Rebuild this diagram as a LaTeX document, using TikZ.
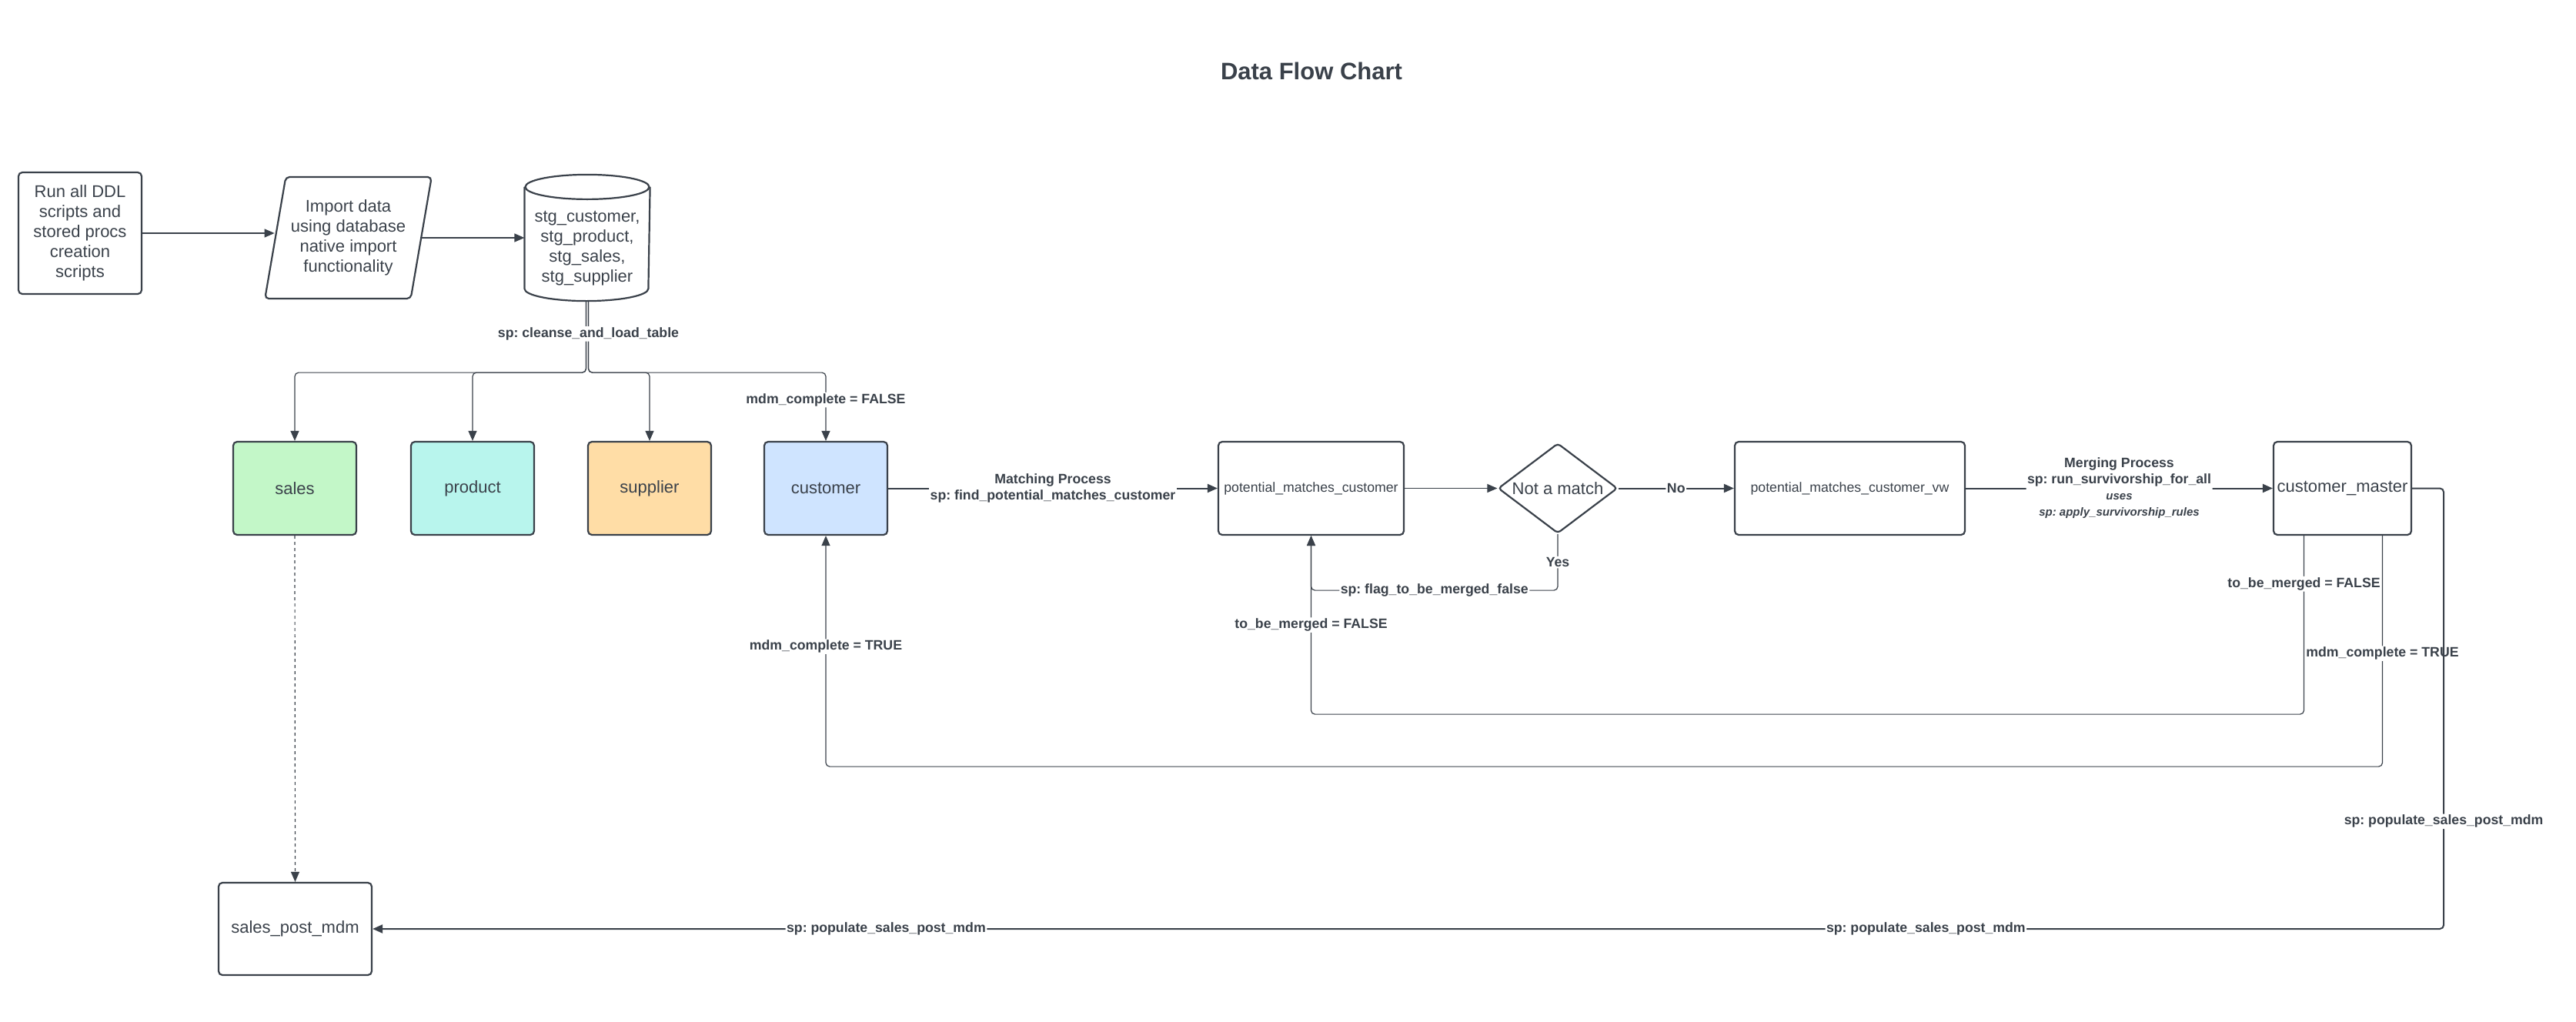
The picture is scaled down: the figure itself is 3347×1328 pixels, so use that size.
\documentclass[tikz,border=0pt]{standalone}
\usepackage{fontspec}
\setmainfont{Liberation Sans}
\frenchspacing
\usetikzlibrary{arrows.meta,%
                shapes.geometric}
\definecolor{ink}{RGB}{58,65,74}
\definecolor{salesfill}{RGB}{195,247,200}
\definecolor{productfill}{RGB}{184,245,237}
\definecolor{supplierfill}{RGB}{255,221,166}
\definecolor{customerfill}{RGB}{207,228,255}

\tikzset{
  procbox/.style={draw=ink, line width=2.2pt, rounded corners=5pt, text=ink,
                  align=center, inner sep=2pt, font=\fontsize{22}{26}\selectfont},
  tblbox/.style={procbox, minimum width=160pt, minimum height=121pt},
  lbl/.style={fill=white, text=ink, inner sep=1.5pt, align=center,
              font=\fontsize{17.7}{21}\selectfont\bfseries},
  flowline/.style={draw=ink, line width=1.2pt, rounded corners=5pt,
                   -{Triangle[length=13pt,width=11pt]}},
  mainflow/.style={flowline, line width=2pt}
}

\begin{document}
\begin{tikzpicture}[x=1pt, y=1pt]
\useasboundingbox (0,0) rectangle (3347,-1328);

\node[text=ink, font=\fontsize{31}{36}\selectfont\bfseries] (Title) at (1704,-92) {Data Flow Chart};

\node[procbox, minimum width=160pt, minimum height=158pt] (DDL) at (104,-303)
  {Run all DDL\\scripts and\\stored procs\\creation\\scripts};
\node[procbox, trapezium, trapezium left angle=76, trapezium right angle=104,
      trapezium stretches=true, minimum width=217pt, minimum height=158pt] (Import) at (452.5,-309)
  {Import data\\using database\\native import\\functionality};
\node[procbox, draw=none, minimum width=161pt, minimum height=134pt] (Stg) at (763,-323)
  {stg\_customer,\\stg\_product,\\stg\_sales,\\stg\_supplier};
\draw[ink, line width=2.2pt] ([yshift=12pt]Stg.north west) -- ([yshift=16pt]Stg.south west)
  arc[start angle=180, end angle=360, x radius=80.5pt, y radius=16pt] -- ([yshift=12pt]Stg.north east);
\draw[ink, line width=2.2pt] ([yshift=12pt]Stg.north) ellipse[x radius=80.5pt, y radius=16pt];

\draw[flowline] (DDL.east) -- (DDL.east -| Import.west);
\draw[flowline] (Import.east) -- (Import.east -| Stg.west);

\node[tblbox, fill=salesfill] (Sales) at (383,-634.5) {sales};
\node[tblbox, fill=productfill] (Product) at (614,-634.5) {product};
\node[tblbox, fill=supplierfill] (Supplier) at (844,-634.5) {supplier};
\node[tblbox, fill=customerfill] (Customer) at (1073,-634.5) {customer};

\draw[flowline] ([xshift=-1.5pt]Stg.south) -- ++(0,-93) -| (Sales.north);
\draw[flowline] ([xshift=-1.5pt]Stg.south) -- ++(0,-93) -| (Product.north);
\draw[flowline] ([xshift=1.5pt]Stg.south) -- ++(0,-93) -| (Supplier.north);
\draw[flowline] ([xshift=1.5pt]Stg.south) -- node[lbl, pos=0.46]{sp: cleanse\_and\_load\_table} ++(0,-93)
  -| node[lbl, pos=0.7]{mdm\_complete = FALSE} (Customer.north);

\node[procbox, minimum width=241pt, minimum height=121pt, font=\fontsize{17.7}{21}\selectfont] (PMC) at (1703.5,-634.5)
  {potential\_matches\_customer};
\node[procbox, diamond, aspect=1.32, inner sep=0pt, rounded corners=4pt,
      minimum width=155pt, minimum height=117pt] (Match) at (2024,-634.5) {Not a match};
\node[procbox, minimum width=299pt, minimum height=121pt, font=\fontsize{17.7}{21}\selectfont] (PMCvw) at (2403.5,-634.5)
  {potential\_matches\_customer\_vw};
\node[procbox, minimum width=179pt, minimum height=121pt] (Master) at (3043.5,-634.5) {customer\_master};
\node[procbox, minimum width=199pt, minimum height=120pt] (SalesPost) at (383.5,-1207) {sales\_post\_mdm};

\draw[mainflow] (Customer.east) -- node[lbl]{Matching Process\\sp: find\_potential\_matches\_customer} (PMC.west);
\draw[flowline] (PMC.east) -- (Match.west);
\draw[mainflow] (Match.east) -- node[lbl]{No} (PMCvw.west);
\draw[mainflow] (PMCvw.east) -- node[lbl]{Merging Process\\sp: run\_survivorship\_for\_all\\
  {\fontsize{15}{18}\selectfont\itshape uses}\\{\fontsize{15}{18}\selectfont\itshape sp: apply\_survivorship\_rules}} (Master.west);

\draw[flowline] (Match.south) -- node[lbl]{Yes} ++(0,-73)
  -| node[lbl, pos=0.25]{sp: flag\_to\_be\_merged\_false} (PMC.south);
\draw[flowline] ([xshift=-50pt]Master.south) -- node[lbl, pos=0.27]{to\_be\_merged = FALSE} ++(0,-232)
  -| node[lbl, pos=0.75]{to\_be\_merged = FALSE} (PMC.south);
\draw[flowline] ([xshift=52pt]Master.south) -- node[lbl, pos=0.51]{mdm\_complete = TRUE} ++(0,-300)
  -| node[lbl, pos=0.76]{mdm\_complete = TRUE} (Customer.south);
\draw[mainflow] (Master.east) -- ++(41,0)
  |- node[lbl, pos=0.378]{sp: populate\_sales\_post\_mdm}
     node[lbl, pos=0.625]{sp: populate\_sales\_post\_mdm}
     node[lbl, pos=0.876]{sp: populate\_sales\_post\_mdm} (SalesPost.east);

\draw[flowline, dash pattern=on 4pt off 4pt] (Sales.south) -- (SalesPost.north);

\end{tikzpicture}
\end{document}
